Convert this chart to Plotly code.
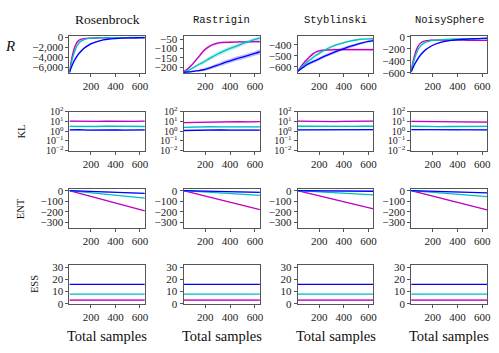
import plotly.graph_objects as go
from plotly.subplots import make_subplots

W, H = 499, 353

functions = ["Rosenbrock", "Rastrigin", "Styblinski", "NoisySphere"]
title_fonts = ["Liberation Serif", "Liberation Mono", "Liberation Mono", "Liberation Mono"]

# sample grid for the reward curves
samples = [25, 50, 75, 100, 125, 150, 175, 200, 250, 300, 350, 400, 450, 500, 550, 600, 640]

# reward R  (magenta, cyan, blue) per function
R_mag = {
    "Rosenbrock": [-7000, -3500, -1500, -600, -330, -220, -170, -140, -120, -110, -105, -105, -100, -100, -100, -100, -100],
    "Rastrigin": [-225, -215, -200, -183, -163, -143, -122, -105, -83, -72, -68, -67, -66, -65, -65, -64, -64],
    "Styblinski": [-635, -600, -565, -535, -505, -482, -465, -455, -447, -445, -443, -443, -443, -443, -443, -443, -443],
    "NoisySphere": [-560, -330, -180, -105, -75, -62, -57, -55, -55, -55, -55, -56, -56, -57, -57, -58, -58],
}
R_cyan = {
    "Rosenbrock": [-7000, -4200, -2300, -1200, -650, -380, -240, -160, -90, -60, -45, -35, -30, -25, -22, -20, -20],
    "Rastrigin": [-226, -222, -215, -205, -195, -185, -178, -168, -148, -130, -115, -100, -88, -75, -63, -52, -45],
    "Styblinski": [-635, -610, -585, -560, -537, -515, -495, -477, -445, -418, -397, -380, -367, -357, -350, -346, -344],
    "NoisySphere": [-570, -380, -240, -155, -110, -85, -70, -60, -50, -42, -38, -35, -33, -32, -31, -30, -30],
}
R_blue = {
    "Rosenbrock": [-7000, -5400, -4200, -3300, -2600, -2050, -1650, -1300, -850, -500, -320, -220, -150, -105, -80, -60, -50],
    "Rastrigin": [-228, -227, -226, -223, -221, -219, -216, -212, -202, -190, -178, -167, -156, -147, -137, -127, -118],
    "Styblinski": [-640, -620, -600, -580, -566, -552, -540, -527, -500, -477, -455, -435, -415, -398, -383, -370, -362],
    "NoisySphere": [-590, -470, -380, -305, -250, -205, -170, -140, -100, -75, -58, -48, -40, -35, -30, -25, -22],
}
# band half-widths of R
R_spread = {
    "Rosenbrock": ([0, 400, 300, 150, 80, 50, 40, 30, 20, 20, 20, 20, 20, 20, 20, 20, 20],
                   [0, 350, 300, 200, 120, 80, 60, 40, 30, 20, 20, 15, 15, 15, 15, 15, 15],
                   [0, 300, 300, 300, 250, 220, 200, 170, 130, 90, 60, 40, 30, 25, 20, 20, 20]),
    "Rastrigin": ([3, 5, 7, 8, 8, 8, 8, 8, 7, 6, 6, 5, 5, 5, 5, 5, 5],
                  [3, 4, 5, 6, 7, 8, 9, 10, 11, 12, 12, 12, 12, 11, 10, 9, 8],
                  [3, 3, 4, 5, 5, 6, 7, 8, 9, 10, 11, 12, 12, 12, 12, 12, 12]),
    "Styblinski": ([5, 12, 15, 15, 14, 12, 10, 10, 10, 10, 10, 10, 10, 10, 10, 10, 10],
                   [5, 8, 10, 11, 12, 12, 12, 12, 12, 11, 10, 10, 9, 9, 8, 8, 8],
                   [5, 8, 10, 12, 13, 14, 14, 15, 15, 15, 14, 14, 13, 12, 11, 10, 10]),
    "NoisySphere": ([10, 25, 20, 12, 8, 6, 5, 5, 5, 5, 5, 5, 5, 5, 5, 5, 5],
                    [10, 25, 22, 16, 12, 9, 7, 6, 5, 5, 5, 5, 5, 5, 5, 5, 5],
                    [10, 25, 25, 22, 20, 18, 15, 12, 10, 8, 6, 5, 5, 5, 5, 5, 5]),
}

# KL divergence
kl_samples = [25, 100, 175, 250, 325, 400, 475, 550, 640]
KL_mag = {
    "Rosenbrock": [11, 10.5, 10, 10.5, 11, 10.5, 11, 10.5, 11],
    "Rastrigin": [8, 8.5, 9, 9.5, 9, 9.5, 10, 9.5, 10],
    "Styblinski": [11, 10.5, 11, 10.5, 10, 10.5, 10.5, 11, 11.5],
    "NoisySphere": [10.5, 10.5, 10, 10.5, 10, 10, 10, 9.5, 9],
}
KL_cyan = {
    "Rosenbrock": [3.2, 3.0, 3.3, 3.1, 3.4, 3.2, 3.0, 3.2, 3.1],
    "Rastrigin": [2.5, 2.8, 2.7, 3.0, 2.8, 2.9, 2.8, 2.9, 2.8],
    "Styblinski": [3.3, 3.2, 3.3, 3.3, 3.2, 3.3, 3.2, 3.3, 3.3],
    "NoisySphere": [3.3, 3.1, 3.4, 3.0, 3.1, 3.0, 3.3, 3.1, 3.2],
}
KL_blue = {
    "Rosenbrock": [1.4, 1.5, 1.3, 1.4, 1.5, 1.4, 1.3, 1.4, 1.4],
    "Rastrigin": [1.2, 1.3, 1.2, 1.3, 1.4, 1.3, 1.3, 1.3, 1.3],
    "Styblinski": [1.4, 1.4, 1.5, 1.4, 1.4, 1.5, 1.4, 1.4, 1.5],
    "NoisySphere": [1.5, 1.5, 1.6, 1.4, 1.5, 1.4, 1.6, 1.5, 1.4],
}

# entropy
ent_samples = [25, 330, 640]
ENT_mag = {
    "Rosenbrock": [0, -97, -193],
    "Rastrigin": [0, -90, -180],
    "Styblinski": [0, -87, -173],
    "NoisySphere": [0, -92, -184],
}
ENT_cyan = {
    "Rosenbrock": [0, -35, -70],
    "Rastrigin": [0, -22, -45],
    "Styblinski": [0, -20, -40],
    "NoisySphere": [0, -28, -56],
}
ENT_blue = {
    "Rosenbrock": [0, -10, -26],
    "Rastrigin": [0, -6, -15],
    "Styblinski": [0, -2, -5],
    "NoisySphere": [0, -8, -20],
}

# effective sample size
ess_samples = [25, 640]
ESS_mag = [3, 3]
ESS_cyan = [8, 8]
ESS_blue = [16, 16]

MAG, CYAN, BLUE = "#c000c0", "#00bfbf", "#0000ff"
MAG_F, CYAN_F, BLUE_F = "rgba(192,0,192,0.28)", "rgba(0,191,191,0.28)", "rgba(0,0,255,0.25)"

# pixel boxes of the panels
col_px = [(70, 146), (185, 262), (300, 376.5), (414.5, 491)]
row_px = [(30, 68.5), (109, 149), (189, 229), (268, 308)]

fig = make_subplots(rows=4, cols=4)


def add_series(x, y, lo, hi, line_color, fill_color, r, c, shape="linear"):
    fig.add_trace(go.Scatter(x=x + x[::-1], y=hi + lo[::-1], fill="toself", fillcolor=fill_color,
                             mode="lines", line=dict(width=0, shape=shape), hoverinfo="skip",
                             showlegend=False), row=r, col=c)
    fig.add_trace(go.Scatter(x=x, y=y, mode="lines", line=dict(color=line_color, width=1.3, shape=shape),
                             showlegend=False), row=r, col=c)


for j, f in enumerate(functions):
    c = j + 1
    sm, sc, sb = R_spread[f]
    for y, s, lc, fc in [(R_mag[f], sm, MAG, MAG_F), (R_cyan[f], sc, CYAN, CYAN_F), (R_blue[f], sb, BLUE, BLUE_F)]:
        lo = [a - b for a, b in zip(y, s)]
        hi = [a + b for a, b in zip(y, s)]
        add_series(samples, y, lo, hi, lc, fc, 1, c, "spline")

    for y, lc, fc in [(KL_mag[f], MAG, MAG_F), (KL_cyan[f], CYAN, CYAN_F), (KL_blue[f], BLUE, BLUE_F)]:
        lo = [v / 1.15 for v in y]
        hi = [v * 1.15 for v in y]
        add_series(kl_samples, y, lo, hi, lc, fc, 2, c)

    for y, s, lc, fc in [(ENT_mag[f], 3, MAG, MAG_F), (ENT_cyan[f], 2, CYAN, CYAN_F), (ENT_blue[f], 4, BLUE, BLUE_F)]:
        lo = [v - s for v in y]
        hi = [v + s for v in y]
        add_series(ent_samples, y, lo, hi, lc, fc, 3, c)

    for y, s, lc, fc in [(ESS_mag, 0.7, MAG, MAG_F), (ESS_cyan, 0.3, CYAN, CYAN_F), (ESS_blue, 0.3, BLUE, BLUE_F)]:
        lo = [v - s for v in y]
        hi = [v + s for v in y]
        add_series(ess_samples, y, lo, hi, lc, fc, 4, c)

axis_style = dict(showline=True, mirror=True, linecolor="#555", linewidth=1, ticks="outside",
                  ticklen=3, tickcolor="#555", showgrid=False, zeroline=False,
                  tickfont=dict(family="Liberation Serif", size=11, color="#222"))

r1_ranges = {"Rosenbrock": ([-7100, 300], [-6000, -4000, -2000, 0]),
             "Rastrigin": ([-232, -33], [-200, -150, -100, -50]),
             "Styblinski": ([-654, -320], [-600, -500, -400]),
             "NoisySphere": ([-605, 16], [-600, -400, -200, 0])}

for r in range(1, 5):
    for c in range(1, 5):
        x0, x1 = col_px[c - 1]
        y0, y1 = row_px[r - 1]
        fig.update_xaxes(domain=[x0 / W, x1 / W], range=[25, 640], tickvals=[200, 400, 600],
                         row=r, col=c, **axis_style)
        f = functions[c - 1]
        if r == 1:
            rng, tv = r1_ranges[f]
            fig.update_yaxes(domain=[1 - y1 / H, 1 - y0 / H], range=rng, tickvals=tv, tickformat=",d",
                             row=r, col=c, **axis_style)
        elif r == 2:
            kl_style = dict(axis_style, tickfont=dict(family="Liberation Serif", size=10, color="#222"))
            fig.update_yaxes(domain=[1 - y1 / H, 1 - y0 / H], type="log", range=[-2, 2],
                             tickvals=[0.01, 0.1, 1, 10, 100],
                             ticktext=["10<sup>−2</sup>", "10<sup>−1</sup>", "10<sup>0</sup>",
                                       "10<sup>1</sup>", "10<sup>2</sup>"],
                             row=r, col=c, **kl_style)
        elif r == 3:
            fig.update_yaxes(domain=[1 - y1 / H, 1 - y0 / H], range=[-352, 16],
                             tickvals=[-300, -200, -100, 0], row=r, col=c, **axis_style)
        else:
            fig.update_yaxes(domain=[1 - y1 / H, 1 - y0 / H], range=[0, 32],
                             tickvals=[0, 10, 20, 30], row=r, col=c, **axis_style)

annotations = []
for j, f in enumerate(functions):
    xc = sum(col_px[j]) / 2 / W
    annotations.append(dict(text=f, x=xc, y=1 - 13 / H, xref="paper", yref="paper", showarrow=False,
                            xanchor="center", yanchor="middle",
                            font=dict(family=title_fonts[j], size=13.5 if j == 0 else 10.5, color="#111")))
    annotations.append(dict(text="Total samples", x=xc, y=1 - 342 / H, xref="paper", yref="paper",
                            showarrow=False, xanchor="center", yanchor="middle",
                            font=dict(family="Liberation Serif", size=14.5, color="#111")))

annotations.append(dict(text="<i>R</i>", x=10 / W, y=1 - 40 / H, xref="paper", yref="paper",
                        showarrow=False, xanchor="center", yanchor="middle",
                        font=dict(family="Liberation Serif", size=15, color="#111")))
for label, xp, yp in [("KL", 21.5, 129), ("ENT", 20, 209), ("ESS", 35, 288)]:
    annotations.append(dict(text=label, x=xp / W, y=1 - yp / H, xref="paper", yref="paper",
                            showarrow=False, textangle=-90, xanchor="center", yanchor="middle",
                            font=dict(family="Liberation Serif", size=10.5, color="#111")))

fig.update_layout(width=W, height=H, margin=dict(l=0, r=0, t=0, b=0),
                  plot_bgcolor="white", paper_bgcolor="white",
                  annotations=annotations, showlegend=False)

# drop the default body margin so the figure sits at the window's corner
fig.write_html("out.html", config={"displayModeBar": False},
               post_script="document.body.style.margin='0';")
